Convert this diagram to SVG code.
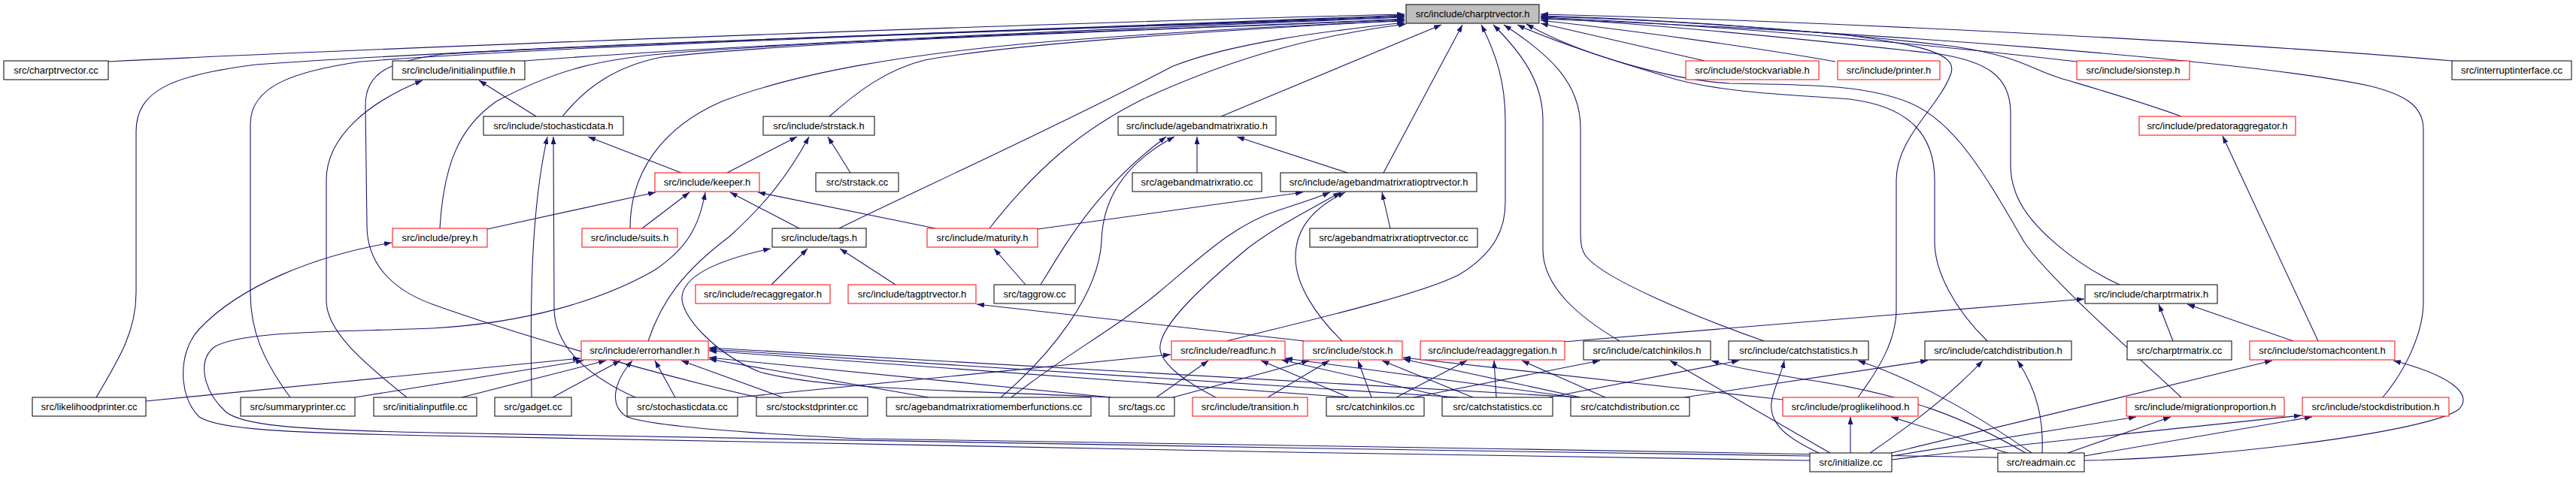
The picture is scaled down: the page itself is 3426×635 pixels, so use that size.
<svg xmlns="http://www.w3.org/2000/svg" width="3426" height="635" viewBox="0 0 3426 635">
<defs>
<marker id="a" viewBox="0 0 10 7" markerWidth="10" markerHeight="7" refX="10" refY="3.5" orient="auto" markerUnits="userSpaceOnUse"><path d="M0,0 L10,3.5 L0,7 z" fill="#191970"/></marker>
<style>
.n rect{fill:#fff;stroke:#000;stroke-width:1}
.r rect{fill:#fff;stroke:#f00;stroke-width:1}
.g rect{fill:#bfbfbf;stroke:#000;stroke-width:1}
text{font-family:"Liberation Sans",Arial,sans-serif;font-size:13px;text-anchor:middle;fill:#000}
#edges path{fill:none;stroke:#191970;stroke-width:1.1;marker-end:url(#a)}
</style>
</defs>
<rect width="3426" height="635" fill="#fff"/>
<g id="edges">
<path d="M144,82 C500,64 1400,30 1868,19"/>
<path d="M128,529 C160,475 181,440 181,390 L181,175 C181,120 230,100 340,86 C700,60 1500,36 1868,20"/>
<path d="M386,529 C350,480 333,440 333,390 L333,165 C333,115 390,95 480,82 C800,57 1500,37 1868,21"/>
<path d="M1008,529 C900,505 700,450 575,405 C520,385 488,350 488,300 L486,140 C486,98 515,82 590,72 C900,52 1500,38 1868,22"/>
<path d="M698,81 C1000,58 1500,38 1868,23"/>
<path d="M585,304 C590,220 610,170 660,135 C740,92 800,78 900,70 C1200,48 1600,38 1868,25"/>
<path d="M748,155 C780,115 820,88 880,76 C1100,52 1600,38 1868,26"/>
<path d="M1103,155 C1140,122 1180,92 1230,80 C1350,58 1600,42 1868,27"/>
<path d="M838,304 C838,230 880,170 960,135 C1060,97 1200,72 1400,55 C1600,40 1750,32 1868,28"/>
<path d="M1116,304 C1200,262 1400,172 1560,88 C1640,57 1760,42 1868,30"/>
<path d="M1316,304 C1380,222 1440,172 1520,132 C1650,72 1760,46 1870,32"/>
<path d="M1624,155 L1917,33"/>
<path d="M1840,230 L1945,33"/>
<path d="M1632,454 C1700,436 1880,396 1940,366 C1990,336 2002,302 2002,270 L2002,160 C2002,110 1990,72 1970,33"/>
<path d="M2154,454 C2100,422 2052,382 2052,332 L2052,160 C2052,110 2025,72 1986,33"/>
<path d="M2346,454 C2250,420 2135,372 2110,342 C2102,332 2102,322 2102,300 L2102,170 C2102,110 2060,72 2000,33"/>
<path d="M2643,454 C2600,412 2573,362 2573,322 L2573,240 C2573,180 2540,142 2460,132 C2380,126 2300,124 2230,106 C2150,82 2070,57 2018,33"/>
<path d="M2901,529 C2860,490 2725,372 2692,322 C2640,232 2600,162 2540,137 C2480,112 2400,113 2300,111 C2220,106 2100,72 2030,32"/>
<path d="M2471,529 C2500,490 2522,452 2522,412 L2522,240 C2522,182 2580,142 2595,97 C2602,72 2560,60 2450,46 C2300,32 2150,24 2049,21"/>
<path d="M2819,379 C2760,352 2700,302 2683,262 C2676,246 2674,232 2674,220 L2674,150 C2674,100 2640,82 2580,72 C2400,52 2200,32 2049,24"/>
<path d="M2901,155 C2850,136 2780,116 2740,104 C2700,92 2690,76 2600,62 C2400,38 2200,26 2049,22"/>
<path d="M2762,82 C2500,52 2250,32 2049,23"/>
<path d="M2441,82 C2350,66 2200,44 2049,27"/>
<path d="M2267,81 L2049,31"/>
<path d="M3261,81 C3050,62 2500,30 2049,19"/>
<path d="M3169,529 C3200,492 3223,442 3223,402 L3223,172 C3223,142 3200,126 3150,114 C3000,82 2500,42 2049,25"/>
<path d="M713,155 L637,107"/>
<path d="M541,529 C480,480 434,440 434,400 L434,240 C434,182 490,136 562,107"/>
<path d="M906,230 L782,182"/>
<path d="M967,230 L1060,182"/>
<path d="M707,529 C705,400 706,280 728,182"/>
<path d="M845,529 C780,500 737,460 737,410 L736,182"/>
<path d="M1131,230 L1101,182"/>
<path d="M862,454 C880,400 910,360 970,315 C1020,270 1050,230 1076,182"/>
<path d="M648,305 L872,256"/>
<path d="M854,304 L917,256"/>
<path d="M1063,304 L971,256"/>
<path d="M1244,304 L1008,256"/>
<path d="M2407,607 C1800,598 1000,585 575,576 C380,572 320,565 300,548 C270,520 262,480 285,462 C320,440 450,442 575,437 C700,430 800,400 870,360 C915,330 930,300 938,256"/>
<path d="M2407,613 C1800,604 1000,590 575,580 C380,576 290,572 265,555 C238,530 235,470 265,438 C320,380 420,340 521,323"/>
<path d="M2657,609 C2200,600 1500,590 1145,584 C1000,577 870,568 834,555 C810,540 815,510 841,480"/>
<path d="M194,534 L772,477"/>
<path d="M472,529 L776,480"/>
<path d="M614,529 L806,480"/>
<path d="M735,529 L825,480"/>
<path d="M898,529 L871,480"/>
<path d="M1041,529 L906,480"/>
<path d="M1235,529 L943,478"/>
<path d="M1478,529 L943,476"/>
<path d="M1794,529 L943,467"/>
<path d="M1940,529 L943,465"/>
<path d="M2100,529 L943,463"/>
<path d="M981,529 L1557,472"/>
<path d="M1538,529 L1607,480"/>
<path d="M1560,529 L1741,480"/>
<path d="M1477,529 C1300,520 1100,520 1010,495 C950,470 905,420 907,395 C910,365 960,345 1025,331"/>
<path d="M1026,379 L1074,331"/>
<path d="M1191,379 L1117,331"/>
<path d="M1735,454 L1299,405"/>
<path d="M1785,454 C1750,420 1724,380 1723,345 C1722,310 1740,280 1789,256"/>
<path d="M1380,305 L1733,256"/>
<path d="M1345,529 C1420,470 1480,440 1540,390 C1600,340 1640,300 1700,280 C1730,270 1750,264 1769,256"/>
<path d="M1617,529 C1570,505 1540,480 1543,460 C1546,430 1600,380 1660,330 C1700,300 1740,280 1783,256"/>
<path d="M1849,304 L1838,256"/>
<path d="M1792,230 L1645,182"/>
<path d="M1592,230 L1592,182"/>
<path d="M1384,379 C1420,320 1460,250 1551,182"/>
<path d="M1331,529 C1400,470 1462,390 1465,320 C1467,260 1500,215 1562,182"/>
<path d="M1364,379 L1322,331"/>
<path d="M1686,529 L1768,480"/>
<path d="M1824,529 L1806,480"/>
<path d="M1959,529 L1838,480"/>
<path d="M2102,529 L1866,478"/>
<path d="M2371,532 L1866,476"/>
<path d="M1794,529 L1677,480"/>
<path d="M1925,529 L1704,479"/>
<path d="M2095,529 L1709,477"/>
<path d="M1857,529 L1951,480"/>
<path d="M1990,529 L1987,480"/>
<path d="M2135,529 L2024,480"/>
<path d="M1880,529 L2128,480"/>
<path d="M2060,529 L2313,480"/>
<path d="M2240,529 L2564,480"/>
<path d="M2434,603 L2221,480"/>
<path d="M2419,603 C2370,580 2350,560 2357,530 C2362,510 2370,495 2373,480"/>
<path d="M2487,603 C2550,560 2600,520 2637,480"/>
<path d="M2461,603 L2461,555"/>
<path d="M2515,603 L3022,480"/>
<path d="M2516,607 L2841,555"/>
<path d="M2516,612 C2700,590 2900,570 3061,553"/>
<path d="M2716,603 C2718,560 2710,520 2683,480"/>
<path d="M2702,603 C2640,560 2560,510 2471,480"/>
<path d="M2670,603 L2515,555"/>
<path d="M2694,603 C2620,560 2540,525 2400,505 C2340,495 2300,488 2276,480"/>
<path d="M2750,603 L2887,555"/>
<path d="M2772,607 L3075,555"/>
<path d="M2772,613 C2950,610 3230,575 3270,545 C3290,525 3260,500 3183,480"/>
<path d="M3050,454 L2909,405"/>
<path d="M2890,454 L2871,405"/>
<path d="M2080,455 L2772,398"/>
<path d="M3083,454 L2956,181"/>
</g>
<g id="cv" class="g"><rect x="1870" y="6" width="177" height="25"/><text x="1958.5" y="23">src/include/charptrvector.h</text></g>
<g id="cvcc" class="n"><rect x="5" y="81" width="139" height="25"/><text x="74.5" y="98">src/charptrvector.cc</text></g>
<g id="iif" class="n"><rect x="522" y="81" width="176" height="25"/><text x="610" y="98">src/include/initialinputfile.h</text></g>
<g id="sv" class="r"><rect x="2242" y="81" width="177" height="25"/><text x="2330.5" y="98">src/include/stockvariable.h</text></g>
<g id="pr" class="r"><rect x="2444" y="81" width="136" height="25"/><text x="2512" y="98">src/include/printer.h</text></g>
<g id="si" class="r"><rect x="2762" y="81" width="150" height="25"/><text x="2837" y="98">src/include/sionstep.h</text></g>
<g id="ii" class="n"><rect x="3261" y="81" width="159" height="25"/><text x="3340.5" y="98">src/interruptinterface.cc</text></g>
<g id="sd" class="n"><rect x="643" y="155" width="186" height="25"/><text x="736" y="172">src/include/stochasticdata.h</text></g>
<g id="ss" class="n"><rect x="1015" y="155" width="148" height="25"/><text x="1089" y="172">src/include/strstack.h</text></g>
<g id="amr" class="n"><rect x="1487" y="155" width="210" height="25"/><text x="1592" y="172">src/include/agebandmatrixratio.h</text></g>
<g id="pa" class="r"><rect x="2845" y="155" width="208" height="25"/><text x="2949" y="172">src/include/predatoraggregator.h</text></g>
<g id="k" class="r"><rect x="871" y="230" width="139" height="25"/><text x="940.5" y="247">src/include/keeper.h</text></g>
<g id="sscc" class="n"><rect x="1085" y="230" width="110" height="25"/><text x="1140" y="247">src/strstack.cc</text></g>
<g id="amrcc" class="n"><rect x="1506" y="230" width="172" height="25"/><text x="1592" y="247">src/agebandmatrixratio.cc</text></g>
<g id="amrpv" class="n"><rect x="1703" y="230" width="261" height="25"/><text x="1833.5" y="247">src/include/agebandmatrixratioptrvector.h</text></g>
<g id="prey" class="r"><rect x="522" y="304" width="126" height="25"/><text x="585" y="321">src/include/prey.h</text></g>
<g id="suits" class="r"><rect x="774" y="304" width="127" height="25"/><text x="837.5" y="321">src/include/suits.h</text></g>
<g id="tags" class="n"><rect x="1027" y="304" width="125" height="25"/><text x="1089.5" y="321">src/include/tags.h</text></g>
<g id="mat" class="r"><rect x="1233" y="304" width="147" height="25"/><text x="1306.5" y="321">src/include/maturity.h</text></g>
<g id="amrpvcc" class="n"><rect x="1742" y="304" width="223" height="25"/><text x="1853.5" y="321">src/agebandmatrixratioptrvector.cc</text></g>
<g id="rec" class="r"><rect x="925" y="379" width="179" height="25"/><text x="1014.5" y="396">src/include/recaggregator.h</text></g>
<g id="tpv" class="r"><rect x="1128" y="379" width="170" height="25"/><text x="1213" y="396">src/include/tagptrvector.h</text></g>
<g id="tg" class="n"><rect x="1322" y="379" width="108" height="25"/><text x="1376" y="396">src/taggrow.cc</text></g>
<g id="cm" class="n"><rect x="2773" y="379" width="176" height="25"/><text x="2861" y="396">src/include/charptrmatrix.h</text></g>
<g id="eh" class="r"><rect x="773" y="454" width="169" height="25"/><text x="857.5" y="471">src/include/errorhandler.h</text></g>
<g id="rf" class="r"><rect x="1558" y="454" width="151" height="25"/><text x="1633.5" y="471">src/include/readfunc.h</text></g>
<g id="st" class="r"><rect x="1733" y="454" width="132" height="25"/><text x="1799" y="471">src/include/stock.h</text></g>
<g id="ra" class="r"><rect x="1889" y="454" width="192" height="25"/><text x="1985" y="471">src/include/readaggregation.h</text></g>
<g id="ck" class="n"><rect x="2106" y="454" width="169" height="25"/><text x="2190.5" y="471">src/include/catchinkilos.h</text></g>
<g id="cs" class="n"><rect x="2299" y="454" width="186" height="25"/><text x="2392" y="471">src/include/catchstatistics.h</text></g>
<g id="cd" class="n"><rect x="2560" y="454" width="195" height="25"/><text x="2657.5" y="471">src/include/catchdistribution.h</text></g>
<g id="cmcc" class="n"><rect x="2829" y="454" width="139" height="25"/><text x="2898.5" y="471">src/charptrmatrix.cc</text></g>
<g id="sc" class="r"><rect x="2992" y="454" width="193" height="25"/><text x="3088.5" y="471">src/include/stomachcontent.h</text></g>
<g id="lp" class="n"><rect x="43" y="529" width="151" height="25"/><text x="118.5" y="546">src/likelihoodprinter.cc</text></g>
<g id="sp" class="n"><rect x="320" y="529" width="152" height="25"/><text x="396" y="546">src/summaryprinter.cc</text></g>
<g id="iifcc" class="n"><rect x="497" y="529" width="137" height="25"/><text x="565.5" y="546">src/initialinputfile.cc</text></g>
<g id="gad" class="n"><rect x="658" y="529" width="102" height="25"/><text x="709" y="546">src/gadget.cc</text></g>
<g id="sdcc" class="n"><rect x="834" y="529" width="147" height="25"/><text x="907.5" y="546">src/stochasticdata.cc</text></g>
<g id="sspcc" class="n"><rect x="1006" y="529" width="148" height="25"/><text x="1080" y="546">src/stockstdprinter.cc</text></g>
<g id="amrmf" class="n"><rect x="1179" y="529" width="272" height="25"/><text x="1315" y="546">src/agebandmatrixratiomemberfunctions.cc</text></g>
<g id="tagscc" class="n"><rect x="1475" y="529" width="87" height="25"/><text x="1518.5" y="546">src/tags.cc</text></g>
<g id="tr" class="r"><rect x="1586" y="529" width="153" height="25"/><text x="1662.5" y="546">src/include/transition.h</text></g>
<g id="ckcc" class="n"><rect x="1764" y="529" width="130" height="25"/><text x="1829" y="546">src/catchinkilos.cc</text></g>
<g id="cscc" class="n"><rect x="1918" y="529" width="147" height="25"/><text x="1991.5" y="546">src/catchstatistics.cc</text></g>
<g id="cdcc" class="n"><rect x="2089" y="529" width="158" height="25"/><text x="2168" y="546">src/catchdistribution.cc</text></g>
<g id="pl" class="r"><rect x="2371" y="529" width="180" height="25"/><text x="2461" y="546">src/include/proglikelihood.h</text></g>
<g id="mp" class="r"><rect x="2828" y="529" width="210" height="25"/><text x="2933" y="546">src/include/migrationproportion.h</text></g>
<g id="sdi" class="r"><rect x="3062" y="529" width="195" height="25"/><text x="3159.5" y="546">src/include/stockdistribution.h</text></g>
<g id="in" class="n"><rect x="2407" y="603" width="109" height="25"/><text x="2461.5" y="620">src/initialize.cc</text></g>
<g id="rm" class="n"><rect x="2657" y="603" width="115" height="25"/><text x="2714.5" y="620">src/readmain.cc</text></g>
</svg>
